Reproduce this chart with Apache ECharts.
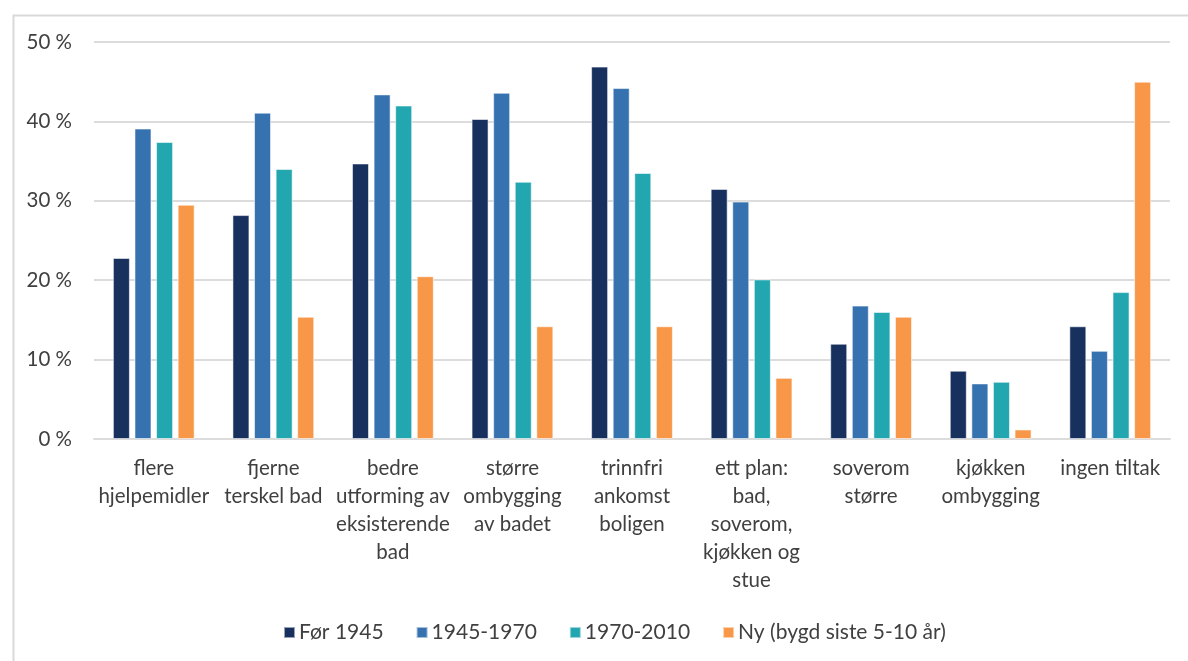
<!DOCTYPE html>
<html>
<head>
<meta charset="utf-8">
<script src="https://cdn.jsdelivr.net/npm/echarts@6/dist/echarts.min.js"></script>
<style>
  html, body { margin: 0; padding: 0; background: #fff; }
  #chart { width: 1188px; height: 661px; }
</style>
</head>
<body>
<div id="chart"></div>
<script>
// Tiltak i boligen, andel per byggeperiode (%)
const categories = [
  'flere\nhjelpemidler',
  'fjerne\nterskel bad',
  'bedre\nutforming av\neksisterende\nbad',
  'større\nombygging\nav badet',
  'trinnfri\nankomst\nboligen',
  'ett plan:\nbad,\nsoverom,\nkjøkken og\nstue',
  'soverom\nstørre',
  'kjøkken\nombygging',
  'ingen tiltak'
];
const seriesNames = ['Før 1945', '1945-1970', '1970-2010', 'Ny (bygd siste 5-10 år)'];
const for1945   = [22.8, 28.2, 34.7, 40.3, 46.9, 31.5, 12.0, 8.6, 14.2];
const p1945_1970 = [39.1, 41.1, 43.4, 43.6, 44.2, 29.9, 16.8, 7.0, 11.1];
const p1970_2010 = [37.4, 34.0, 42.0, 32.4, 33.5, 20.1, 16.0, 7.2, 18.5];
const nyBygd    = [29.5, 15.4, 20.5, 14.2, 14.2, 7.7, 15.4, 1.2, 45.0];
const yTicks = [0, 10, 20, 30, 40, 50];

const colors = ['#17305e', '#3672b0', '#22a6af', '#f79747'];
const textColor = '#404040';
const font = 'Lato';
const gridColor = '#dcdcdc';

const values = [for1945, p1945_1970, p1970_2010, nyBygd];

const chart = echarts.init(document.getElementById('chart'), null, { renderer: 'canvas' });
chart.setOption({
  animation: false,
  backgroundColor: '#ffffff',
  textStyle: { fontFamily: font },
  graphic: [{
    type: 'rect',
    left: 11, top: 13,
    shape: { width: 1400, height: 900 },
    style: { fill: 'none', stroke: '#d9d9d9', lineWidth: 2 },
    silent: true,
    z: -10
  }],
  grid: { left: 94, right: 18, top: 42, bottom: 222, containLabel: false },
  legend: {
    data: seriesNames,
    bottom: 13,
    left: 278,
    itemWidth: 11,
    itemHeight: 11,
    itemGap: 32,
    icon: 'rect',
    textStyle: { color: textColor, fontSize: 21, fontFamily: font, padding: [0, 0, 0, -1] }
  },
  xAxis: {
    type: 'category',
    data: categories,
    axisTick: { show: false },
    axisLine: { show: true, lineStyle: { color: gridColor, width: 2 } },
    axisLabel: {
      color: textColor,
      fontSize: 20.5,
      fontFamily: font,
      lineHeight: 28,
      margin: 15,
      interval: 0,
      align: 'center'
    }
  },
  yAxis: {
    type: 'value',
    min: yTicks[0],
    max: yTicks[yTicks.length - 1],
    interval: 10,
    axisLine: { show: false },
    axisTick: { show: false },
    splitLine: { lineStyle: { color: gridColor, width: 2 } },
    axisLabel: {
      color: textColor,
      fontSize: 20.5,
      fontFamily: font,
      margin: 22,
      formatter: '{value} %'
    }
  },
  series: seriesNames.map((name, i) => ({
    name,
    type: 'bar',
    data: values[i],
    barWidth: 17,
    barGap: '27%',
    itemStyle: {
      color: colors[i],
      borderColor: 'rgba(255,255,255,0.55)',
      borderWidth: 1
    }
  }))
});
</script>
</body>
</html>
